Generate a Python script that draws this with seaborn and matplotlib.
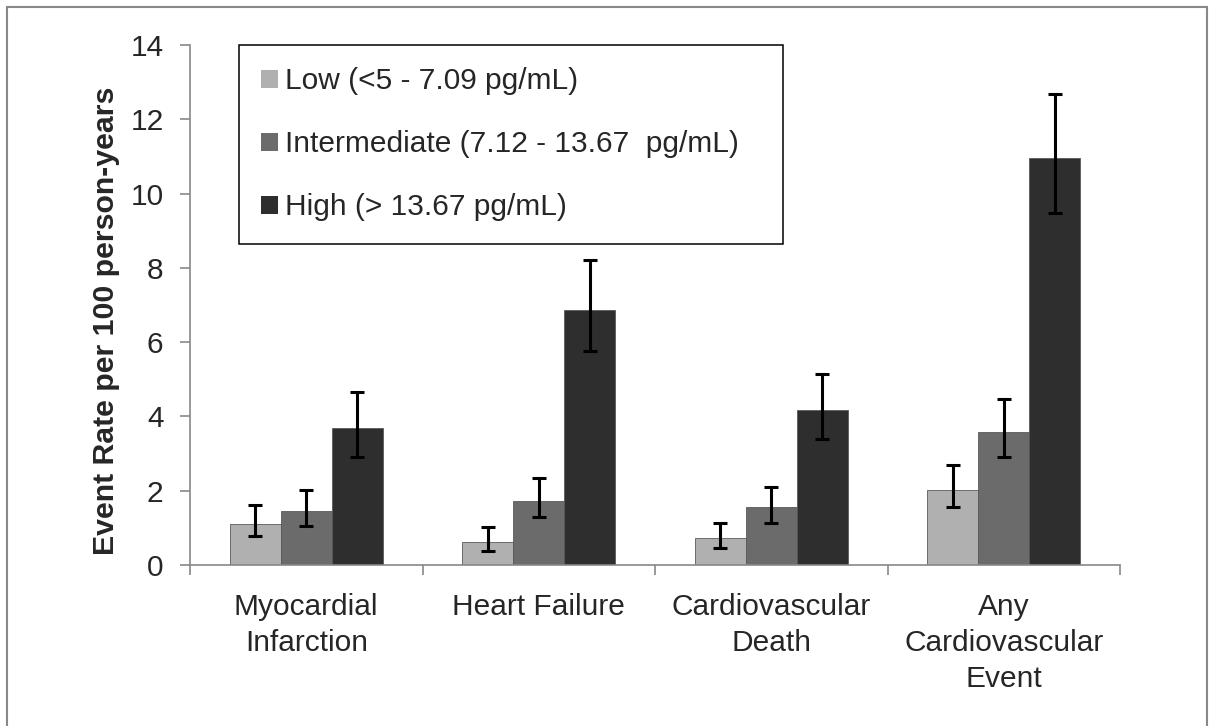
import matplotlib
matplotlib.use("Agg")
import matplotlib.pyplot as plt
import seaborn as sns
import pandas as pd
import numpy as np
from matplotlib.patches import Rectangle

categories = ["Myocardial\nInfarction", "Heart Failure", "Cardiovascular\nDeath", "Any\nCardiovascular\nEvent"]
groups = ["Low (<5 - 7.09 pg/mL)", "Intermediate (7.12 - 13.67  pg/mL)", "High (> 13.67 pg/mL)"]
low_vals = [1.10, 0.62, 0.72, 2.03]
low_lo = [0.78, 0.38, 0.45, 1.55]
low_hi = [1.62, 1.01, 1.14, 2.70]
int_vals = [1.45, 1.72, 1.55, 3.59]
int_lo = [1.04, 1.28, 1.13, 2.90]
int_hi = [2.03, 2.35, 2.11, 4.47]
high_vals = [3.70, 6.87, 4.17, 10.97]
high_lo = [2.90, 5.76, 3.38, 9.49]
high_hi = [4.67, 8.22, 5.14, 12.68]
yticks = [0, 2, 4, 6, 8, 10, 12, 14]

vals = [low_vals, int_vals, high_vals]
los = [low_lo, int_lo, high_lo]
his = [low_hi, int_hi, high_hi]

rows = []
for g, v in zip(groups, vals):
    for c, val in zip(categories, v):
        rows.append({"cat": c, "grp": g, "val": val})
df = pd.DataFrame(rows)

sns.set_theme(style="white")
plt.rcParams['font.family'] = ['Liberation Sans', 'DejaVu Sans']

fig = plt.figure(figsize=(12.09, 7.26), dpi=100)
ax = fig.add_axes([190/1209, 1-565/726, 930/1209, 520/726])

colors = ["#b0b0b0", "#6b6b6b", "#2e2e2e"]
sns.barplot(data=df, x="cat", y="val", hue="grp", order=categories, hue_order=groups,
            palette=colors, width=0.66, gap=0, errorbar=None, ax=ax,
            edgecolor="#5a5a5a", linewidth=0.6, saturation=1)

for cont, lo, hi, v in zip(ax.containers, los, his, vals):
    xs = [p.get_x() + p.get_width()/2 for p in cont]
    yerr = np.array([np.array(v) - np.array(lo), np.array(hi) - np.array(v)])
    ax.errorbar(xs, v, yerr=yerr, fmt="none", ecolor="black", elinewidth=2.2,
                capsize=4.8, capthick=2.2, zorder=5)

ax.set_ylim(0, 14)
ax.set_xlim(-0.5, 3.5)
ax.set_yticks(yticks)
ax.set_yticklabels([str(t) for t in yticks], fontsize=21.5)
ax.set_xticks(range(len(categories)))
ax.set_xticklabels(categories, fontsize=21.5, linespacing=1.38)
ax.set_xticks(np.arange(-0.5, 4.0, 1.0), minor=True)
ax.tick_params(axis="x", which="major", length=0, pad=20)
ax.tick_params(axis="x", which="minor", length=7, color="#888888", width=1.2, direction="out", bottom=True)
ax.tick_params(axis="y", which="major", length=7, color="#888888", width=1.2, direction="out", left=True, pad=12)
ax.set_xlabel("")
ax.set_ylabel("Event Rate per 100 person-years", fontsize=21.8, fontweight="bold")
ax.yaxis.set_label_coords(-0.075, 0.47)

for s in ["top", "right"]:
    ax.spines[s].set_visible(False)
for s in ["left", "bottom"]:
    ax.spines[s].set_color("#888888")
    ax.spines[s].set_linewidth(1.2)

h, l = ax.get_legend_handles_labels()
ax.legend(h, l, loc="upper left", bbox_to_anchor=(0.0527, 0.6096, 0.585, 0.3904),
          mode="expand", fontsize=21.5, frameon=True, fancybox=False, edgecolor="black",
          framealpha=1, borderpad=0.75, labelspacing=1.17, handlelength=0.55,
          handleheight=0.55, handletextpad=0.25, borderaxespad=0)
leg = ax.get_legend()
leg.get_frame().set_linewidth(1.1)
for p in leg.get_patches():
    p.set_edgecolor("none")

fig.patches.append(Rectangle((7/1209, -0.01), 1200/1209, 1 - 7/726 + 0.01,
                             transform=fig.transFigure, fill=False,
                             edgecolor="#888888", linewidth=1.5))

fig.savefig("out.png", dpi=100)
